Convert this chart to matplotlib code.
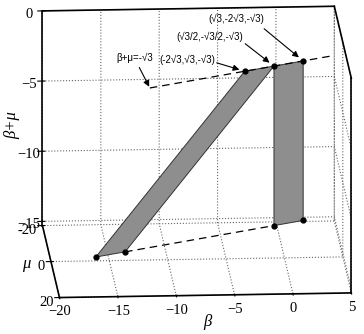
import matplotlib.pyplot as plt
import numpy as np
from mpl_toolkits.mplot3d.art3d import Poly3DCollection
from mpl_toolkits.mplot3d import proj3d

plt.rcParams['grid.linestyle'] = ':'
plt.rcParams['grid.color'] = '#666666'
plt.rcParams['grid.linewidth'] = 0.8

s3 = np.sqrt(3)

# axis limits and ticks
beta_lim = (-20, 5)
mu_lim = (20, -20)          # mu axis runs towards the viewer
z_lim = (-15.3, 0)
beta_ticks = [-20, -15, -10, -5, 0, 5]
mu_ticks = [-20, 0, 20]
z_ticks = [-15, -10, -5, 0]

# corner points on the line beta+mu=-sqrt(3) at the top
upper_beta = [-2 * s3, -s3 / 2, s3]
upper_mu = [s3, -s3 / 2, -2 * s3]
upper_z = -s3
# corner points on the lower line
lower_beta = [-16.7, -14.1, -s3 / 2, s3]
lower_mu = [14.97, 12.37, -s3 / 2, -2 * s3]
lower_z = -13.1
# ends of the dashed line beta+mu=-sqrt(3)
line_beta = [-11.9, 4.2]

labels = ['(-2\u221a3,\u221a3,-\u221a3)', '(\u221a3/2,-\u221a3/2,-\u221a3)',
          '(\u221a3,-2\u221a3,-\u221a3)']

fig = plt.figure(figsize=(3.64, 3.34), dpi=100)
ax = fig.add_axes([-0.0535, -0.0505, 1.16, 1.16], projection='3d',
                  proj_type='ortho', computed_zorder=False)
ax.set_box_aspect((296, 282, 225), zoom=1.155)
ax.view_init(elev=15, azim=-93.5)

ax.set_xlim(*beta_lim)
ax.set_ylim(*mu_lim)
ax.set_zlim(*z_lim)
ax.set_xticks(beta_ticks)
ax.set_yticks(mu_ticks)
ax.set_zticks(z_ticks)
ax.set_yticklabels([])

for a, pad in ((ax.xaxis, -4), (ax.yaxis, -4), (ax.zaxis, -1.5)):
    a.set_pane_color((1, 1, 1, 0))
    a.pane.set_edgecolor('none')
    a.line.set_color('none')
    a.set_tick_params(labelsize=10.5, colors='black', pad=pad, length=0)
    for t in a.get_ticklabels():
        t.set_fontfamily('Liberation Serif')

# grey strips
slant = [(upper_beta[0], upper_mu[0], upper_z), (upper_beta[1], upper_mu[1], upper_z),
         (lower_beta[1], lower_mu[1], lower_z), (lower_beta[0], lower_mu[0], lower_z)]
tall = [(upper_beta[1], upper_mu[1], upper_z), (upper_beta[2], upper_mu[2], upper_z),
        (lower_beta[3], lower_mu[3], lower_z), (lower_beta[2], lower_mu[2], lower_z)]
ax.add_collection3d(Poly3DCollection([slant, tall], facecolor='#8e8e8e',
                                     edgecolor='#333333', linewidths=0.7))

# dashed lines
lb = np.array(line_beta)
ax.plot(lb, -s3 - lb, [upper_z] * 2, color='black', ls=(0, (6, 4)), lw=0.9)
ax.plot(lower_beta[1:3], lower_mu[1:3], [lower_z] * 2, color='black',
        ls=(0, (6, 4)), lw=0.9)

# dots
ax.plot(upper_beta, upper_mu, [upper_z] * 3, 'o', color='black', ms=3.5)
ax.plot(lower_beta, lower_mu, [lower_z] * 4, 'o', color='black', ms=3.5)

# outer box edges
b0, b1 = beta_lim
m0, m1 = mu_lim
z0, z1 = z_lim
edges = [([b0, b0], [m1, m1], [z0, z1]), ([b0, b0], [m1, m0], [z0, z0]),
         ([b0, b1], [m0, m0], [z0, z0]), ([b1, b1], [m0, m0], [z0, z1]),
         ([b0, b1], [m1, m1], [z1, z1]), ([b1, b1], [m1, m0], [z1, z1])]
for xs, ys, zs in edges:
    ax.plot(xs, ys, zs, color='black', lw=1.2)

fig.canvas.draw()


def to_fig(b, m, z):
    x2, y2, _ = proj3d.proj_transform(b, m, z, ax.get_proj())
    px, py = ax.transData.transform((x2, y2))
    return px / fig.bbox.width, py / fig.bbox.height


# mu tick labels, just left of the left floor edge
for m in mu_ticks:
    ax.annotate(str(m), xy=to_fig(b0, m, z0), xycoords='figure fraction',
                xytext=(-6, -5), textcoords='offset pixels', ha='right',
                va='center', fontsize=10.5, family='Liberation Serif')

nar = ['Liberation Sans', 'DejaVu Sans']
W, H = 364, 334
ann = [(labels[0], (upper_beta[0], upper_mu[0], upper_z), (187, 60), (214, 62)),
       (labels[1], (upper_beta[1], upper_mu[1], upper_z), (210, 37), (243, 42)),
       (labels[2], (upper_beta[2], upper_mu[2], upper_z), (236, 19), (262, 27))]
for txt, p, tpos, start in ann:
    fig.text(tpos[0] / W, 1 - tpos[1] / H, txt, ha='center', va='center',
             fontsize=7, family=nar)
    ax.annotate('', xy=to_fig(*p), xycoords='figure fraction',
                xytext=(start[0] / W, 1 - start[1] / H), textcoords='figure fraction',
                arrowprops=dict(arrowstyle='-|>', color='black', lw=0.8,
                                shrinkB=4, mutation_scale=9))

fig.text(135 / W, 1 - 58 / H, '\u03b2+\u03bc=-\u221a3', ha='center', va='center',
         fontsize=7, family=nar)
ax.annotate('', xy=to_fig(line_beta[0], -s3 - line_beta[0], upper_z),
            xycoords='figure fraction', xytext=(138 / W, 1 - 65 / H),
            textcoords='figure fraction',
            arrowprops=dict(arrowstyle='-|>', color='black', lw=0.8,
                            shrinkB=1, mutation_scale=9))

fig.text(207 / W, 1 - 322 / H, '\u03b2', ha='center', va='center', fontsize=12,
         family='Liberation Serif', style='italic')
fig.text(26 / W, 1 - 264 / H, '\u03bc', ha='center', va='center', fontsize=12,
         family='Liberation Serif', style='italic')
fig.text(12 / W, 1 - 125 / H, '\u03b2+\u03bc', ha='center', va='center', fontsize=12,
         family='Liberation Serif', style='italic', rotation=90)

fig.savefig('out.png', dpi=100)
